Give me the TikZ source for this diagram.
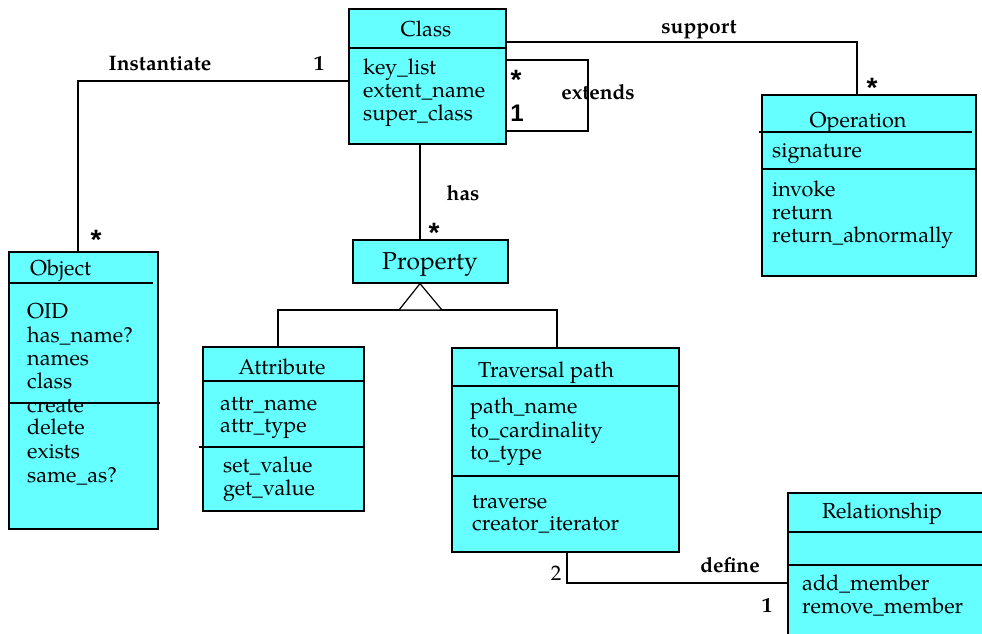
\documentclass[tikz,border=0pt]{standalone}
\usepackage{fontspec}
\setmainfont{TeX Gyre Pagella}
\newfontfamily\arialfont{Liberation Sans}
\definecolor{umlcyan}{RGB}{102,255,255}
\tikzset{
  classbox/.style={draw=black, line width=1.6pt, fill=umlcyan, rectangle,
    inner sep=0pt, anchor=north west},
  compline/.style={line width=1.6pt},
  conn/.style={line width=1.3pt},
  member/.style={anchor=base west, inner sep=0pt, font=\fontsize{21.6}{23}\selectfont},
  cname/.style={anchor=base, inner sep=0pt, font=\fontsize{21.6}{23}\selectfont},
  assoc/.style={anchor=base, inner sep=0pt, font=\fontsize{21}{23}\selectfont\bfseries},
  mult/.style={inner sep=0pt, font=\fontsize{24}{26}\selectfont\arialfont\bfseries},
  star/.style={inner sep=0pt, font=\fontsize{28}{30}\selectfont\arialfont\bfseries},
  multserif/.style={anchor=base, inner sep=0pt, font=\fontsize{21}{23}\selectfont},
}
\begin{document}
\begin{tikzpicture}[x=1pt,y=-1pt]
\useasboundingbox (0,0) rectangle (982,633);
\begin{scope}
\clip (0,0) rectangle (982,633);

% ---------- class boxes ----------
\node[classbox, minimum width=157, minimum height=135] (class) at (348,8) {};
\node[classbox, minimum width=214, minimum height=181] (operation) at (761,94) {};
\node[classbox, minimum width=149, minimum height=277] (object) at (8,251) {};
\node[classbox, minimum width=155, minimum height=43] (property) at (352,239) {};
\node[classbox, minimum width=161, minimum height=164] (attribute) at (202,346) {};
\node[classbox, minimum width=227, minimum height=204] (traversal) at (451,347) {};
\node[classbox, minimum width=205, minimum height=150] (relationship) at (787,492) {};

% ---------- compartment separators ----------
\draw[compline] (class.west |- 0,48) -- (class.east |- 0,48);
\draw[compline] (759,132) -- (972,132);
\draw[compline] (operation.west |- 0,169) -- (operation.east |- 0,169);
\draw[compline] (10,283) -- (153,283);
\draw[compline] (8,403) -- (160,403);
\draw[compline] (attribute.west |- 0,381) -- (attribute.east |- 0,381);
\draw[compline] (199,447) -- (attribute.east |- 0,447);
\draw[compline] (traversal.west |- 0,386) -- (traversal.east |- 0,386);
\draw[compline] (traversal.west |- 0,476) -- (traversal.east |- 0,476);
\draw[compline] (relationship.west |- 0,532) -- (982,532);
\draw[compline] (relationship.west |- 0,565) -- (982,565);

% ---------- class texts ----------
\node[cname] (tClass) at (426,36) {Class};
\node[member] (cm1) at (363,74) {key\_list};
\node[member] (cm2) at (363,97) {extent\_name};
\node[member] (cm3) at (363,120) {super\_class};

\node[cname] (tOperation) at (858,127) {Operation};
\node[member] (om1) at (772,157) {signature};
\node[member] (om2) at (772,196) {invoke};
\node[member] (om3) at (772,219) {return};
\node[member] (om4) at (772,242) {return\_abnormally};

\node[member] (tObject) at (30,275) {Object};
\node[member] (bm1) at (27,318) {OID};
\node[member] (bm2) at (27,342) {has\_name?};
\node[member] (bm3) at (27,365) {names};
\node[member] (bm4) at (27,388) {class};
\node[member] (bm5) at (27,412) {create};
\node[member] (bm6) at (27,434) {delete};
\node[member] (bm7) at (27,458) {exists};
\node[member] (bm8) at (27,482) {same\_as?};

\node[cname, font=\fontsize{24.5}{26}\selectfont] (tProperty) at (430,269) {Property};

\node[cname] (tAttribute) at (282,374) {Attribute};
\node[member] (am1) at (220,410) {attr\_name};
\node[member] (am2) at (220,432) {attr\_type};
\node[member] (am3) at (223,472) {set\_value};
\node[member] (am4) at (223,495) {get\_value};

\node[member] (tTraversal) at (478,377) {Traversal path};
\node[member] (tm1) at (470,413) {path\_name};
\node[member] (tm2) at (470,437) {to\_cardinality};
\node[member] (tm3) at (470,459) {to\_type};
\node[member] (tm4) at (472,508) {traverse};
\node[member] (tm5) at (472,530) {creator\_iterator};

\node[cname] (tRelationship) at (882,518) {Relationship};
\node[member] (rm1) at (802,590) {add\_member};
\node[member] (rm2) at (802,613) {remove\_member};

% ---------- associations ----------
% Class -- Object (instantiate)
\draw[conn] (class.west |- 0,81) -| (object.north -| 78,0);
\node[assoc] (lInst) at (160,70) {Instantiate};
\node[multserif, font=\fontsize{21}{23}\selectfont\bfseries] (mInst1) at (319,70) {1};
\node[star] (mInstS) at (96,240) {*};

% Class -- Operation (support)
\draw[conn] (class.east |- 0,42) -| (operation.north -| 857,0);
\node[assoc] (lSupport) at (699,33) {support};
\node[star] (mSupS) at (872,88) {*};

% Class -- Class (extends)
\draw[conn] (class.east |- 0,60) -| (588,95) |- (class.east |- 0,131);
\node[assoc] (lExtends) at (598,99) {extends};
\node[star] (mExtS) at (516,80) {*};
\node[mult] (mExt1) at (517,113) {1};

% Class -- Property (has)
\draw[conn] (class.south -| 420,0) -- (property.north -| 420,0);
\node[assoc] (lHas) at (463,200) {has};
\node[star] (mHasS) at (434,233) {*};

% Generalization: Attribute, Traversal path -> Property
\draw[conn] (attribute.north -| 278,0) |- (420,310) -| (traversal.north -| 557,0);
\draw[line width=1.2pt, fill=white] (property.south -| 420,0) -- (442,310) -- (399,310) -- cycle;

% Traversal path -- Relationship (define)
\draw[conn] (traversal.south -| 567,0) |- (relationship.west |- 0,583);
\node[assoc] (lDefine) at (730,572) {define};
\node[multserif] (mDef2) at (556,580) {2};
\node[multserif, font=\fontsize{21}{23}\selectfont\bfseries] (mDef1) at (767,612) {1};
\end{scope}
\end{tikzpicture}
\end{document}
